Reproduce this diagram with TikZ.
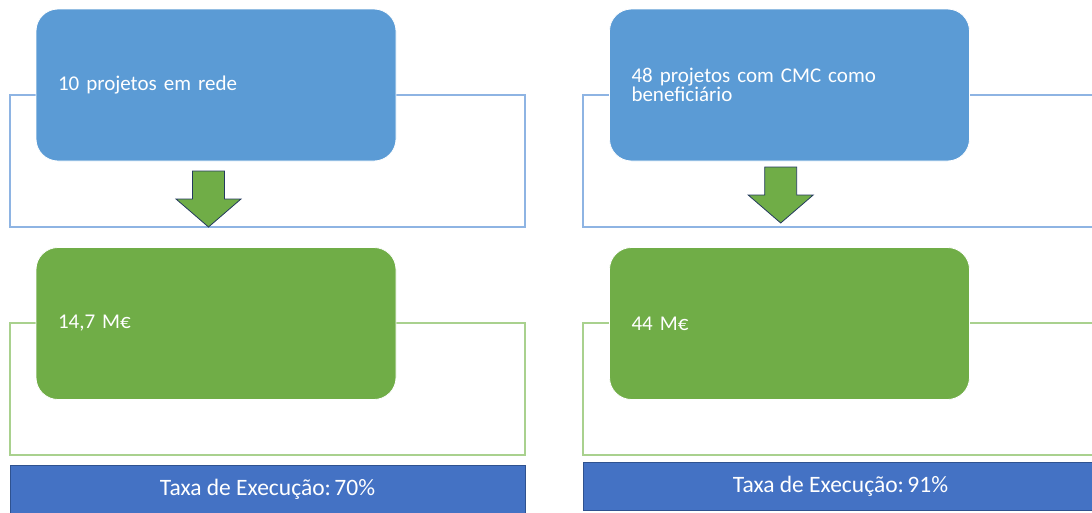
\documentclass[tikz,border=0pt]{standalone}
\usepackage{fontspec}
\setmainfont{Carlito}
\definecolor{boxblue}{HTML}{5B9BD5}
\definecolor{boxgreen}{HTML}{70AD47}
\definecolor{lineblue}{HTML}{8EB4E3}
\definecolor{linegreen}{HTML}{A9D18E}
\definecolor{barblue}{HTML}{4472C4}
\definecolor{barborder}{HTML}{2F528F}
\definecolor{arrowborder}{HTML}{243A5E}
\tikzset{
  framebox/.style={draw=#1, line width=1.1pt, minimum width=515pt, minimum height=132pt, inner sep=0pt},
  roundbox/.style={rounded corners=22pt, fill=#1, draw=white, line width=0.8pt, text=white,
    font=\fontsize{21}{19}\selectfont, minimum width=360pt, minimum height=152pt,
    text width=316pt, inner xsep=22pt, align=left},
  barbox/.style={fill=barblue, draw=barborder, line width=1pt, text=white,
    font=\fontsize{23.5}{25}\selectfont, minimum width=515pt, minimum height=48pt, inner sep=0pt},
  arrowshape/.style={fill=boxgreen, draw=arrowborder, line width=0.8pt, line join=miter},
  downarrow/.pic={\draw[arrowshape] (-16,0) -- (16,0) -- (16,28) -- (32.5,28) -- (0,56) -- (-32.5,28) -- (-16,28) -- cycle;}
}
\begin{document}
\begin{tikzpicture}[x=1pt,y=-1pt]
\useasboundingbox (0,0) rectangle (1092,512);
\clip (0,0) rectangle (1092,512);
% frames
\node[framebox=lineblue] (fb1) at (267.5,161) {};
\node[framebox=linegreen] (fg1) at (267.5,389) {};
\node[framebox=lineblue] (fb2) at (840.5,161) {};
\node[framebox=linegreen] (fg2) at (840.5,389) {};
% boxes
\node[roundbox=boxblue] (b1) at (216,85) {10 projetos em rede};
\node[roundbox=boxgreen] (g1) at (216,323.5) {14,7 M€};
\node[roundbox=boxblue] (b2) at (789.5,85) {48 projetos com CMC como\\beneficiário};
\node[roundbox=boxgreen] (g2) at (789.5,323.5) {44 M€};
% arrows
\pic at (208.5,171) {downarrow};
\pic at (780.7,167) {downarrow};
% bars
\node[barbox] (t1) at (267.5,489) {Taxa de Execução:\hspace{0.15em}70\%};
\node[barbox] (t2) at (840.5,486) {Taxa de Execução:\hspace{0.15em}91\%};
\end{tikzpicture}
\end{document}
